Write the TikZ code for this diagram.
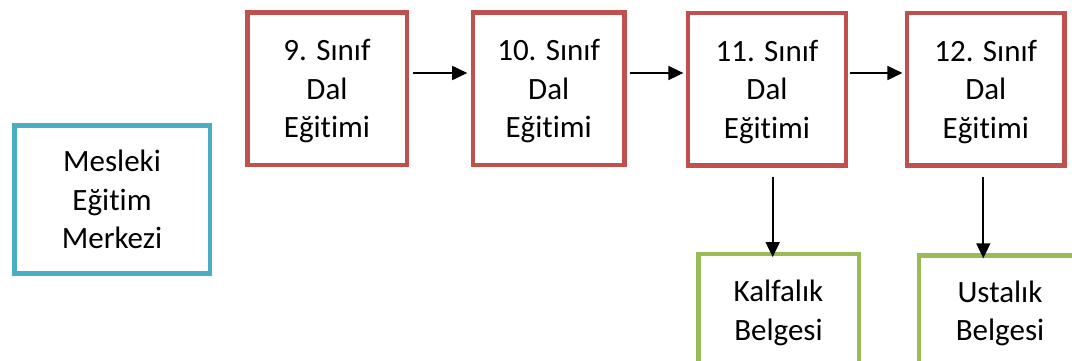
\documentclass[tikz,border=0pt]{standalone}
\usepackage{fontspec}
\setmainfont{Carlito}[Ligatures={NoCommon,NoRequired,NoContextual}]
\usetikzlibrary{arrows.meta}
\definecolor{boxred}{HTML}{C0504D}
\definecolor{boxblue}{HTML}{4BACC6}
\definecolor{boxgreen}{HTML}{9BBB59}
\tikzset{
  txt/.style={font=\fontsize{31pt}{38.5pt}\selectfont, align=center, inner sep=0pt, text depth=0pt, line width=4.5pt, fill=white},
  redbox/.style={txt, draw=boxred},
  bluebox/.style={txt, draw=boxblue},
  greenbox/.style={txt, draw=boxgreen},
  arr/.style={line width=1.8pt, -{Triangle[length=15pt,width=14pt]}}
}
\begin{document}
\begin{tikzpicture}[x=1pt,y=1pt]
\clip (0,0) rectangle (1072,360);
\fill[white] (0,0) rectangle (1072,360);
\node[bluebox, minimum width=195.5pt, minimum height=148pt] (mem) at (112,160.7) {Mesleki\\Eğitim\\Merkezi};
\node[redbox, minimum width=159.5pt, minimum height=152.5pt] (b1) at (327,271.5) {9. Sınıf\\Dal\\Eğitimi};
\node[redbox, minimum width=151.5pt, minimum height=152.5pt] (b2) at (548.7,271.5) {10. Sınıf\\Dal\\Eğitimi};
\node[redbox, minimum width=157.8pt, minimum height=152.8pt] (b3) at (767,270.7) {11. Sınıf\\Dal\\Eğitimi};
\node[redbox, minimum width=157.2pt, minimum height=152.8pt] (b4) at (985.8,270.7) {12. Sınıf\\Dal\\Eğitimi};
\node[greenbox, minimum width=160.5pt, minimum height=112pt] (g1) at (778.5,50) {Kalfalık\\Belgesi};
\node[greenbox, minimum width=162pt, minimum height=110.6pt] (g2) at (1000,49.2) {Ustalık\\Belgesi};
\draw[arr, shorten <=4pt, shorten >=3.5pt] ([yshift=15.5pt]b1.east) -- ([yshift=15.5pt]b2.west);
\draw[arr, shorten <=3pt, shorten >=2.5pt] ([yshift=15.5pt]b2.east) -- ([yshift=15.5pt]b2.east -| b3.west);
\draw[arr, shorten <=1.5pt, shorten >=2.5pt] ([yshift=16.3pt]b3.east) -- ([yshift=16.3pt]b4.west);
\draw[arr, shorten >=3.7pt] ([xshift=5.7pt,yshift=-9pt]b3.south) -- ([xshift=5.7pt,yshift=-9pt]b3.south |- g1.north);
\draw[arr, shorten >=4pt] ([xshift=-2.5pt,yshift=-9pt]b4.south) -- ([xshift=-2.5pt,yshift=-9pt]b4.south |- g2.north);
\end{tikzpicture}
\end{document}
